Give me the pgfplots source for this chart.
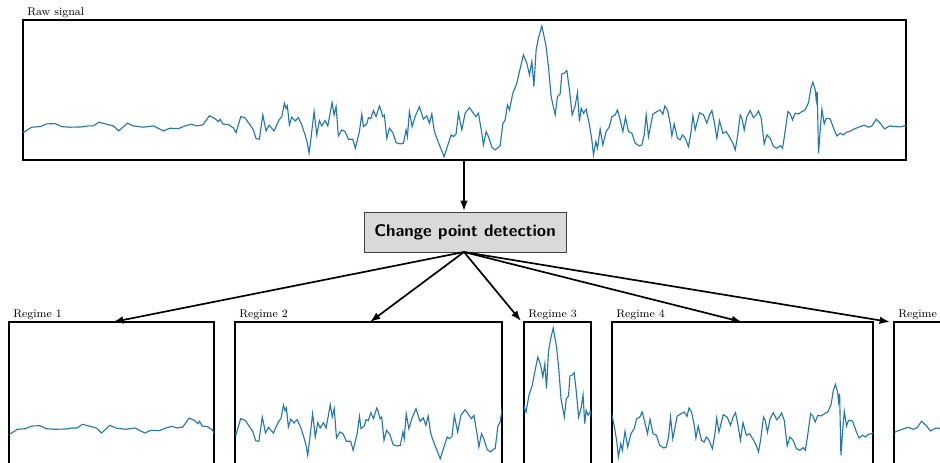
\documentclass[border=0pt]{standalone}
\usepackage{pgfplots}
\pgfplotsset{compat=1.18}
\usepackage{pgfplotstable}
\usetikzlibrary{arrows.meta}

\definecolor{sigblue}{RGB}{31,119,180}

% raw signal (x in px along the top panel, value = height above its bottom)
\pgfplotstableread{
x v
23 27.3
31.7 32.7
40 33.3
46.7 36
55 36.3
61.7 33.3
70 32.7
81.7 33
88.3 34
93.3 34
99 37.7
106.7 35.7
113.3 34
118.7 29
127.3 36.7
133.3 34
143.3 32.7
153.3 34
163.3 29
170 31.7
178.3 31.3
185 34
191.7 35.7
196.7 34
202.7 35
209.3 44
215 41.3
218.3 38.3
220 40.7
222.7 36
228.3 35.3
233.3 32
236 27.3
240.7 43.3
245 42
250 35
253.3 30
256 21.3
259.3 20.7
262.7 45
266 29
269 34.7
274 29
279 40
281.7 43.3
284.3 56.7
286 51.3
287.3 54
289.3 35
291.7 42.7
295 39
298.3 42.3
301.7 35
305 25
307.3 16.7
309 6.7
310.7 20
314 48.3
316.7 25
319.3 39.3
321.7 34
325 39.3
327.7 34
332 57.3
334 45
336 53.3
338.3 24
341.7 30
345 28.3
348.3 20.7
352.7 20.7
355.3 11.7
359.3 28.3
361.7 45.7
363.3 33.3
366.7 36
368.3 42.3
370.7 41.3
373.3 49.3
376 43.3
379.3 54
380 52.7
382.7 43.3
384.3 45
386.7 21.7
389.3 31.7
392.7 27.3
396 17.3
400 16
403.3 16.7
406 30
407.3 23.3
409.3 48.3
412 33.3
415 43.3
419.3 53.3
423.3 40.7
426.7 44
429.3 36.7
431.7 46
434 30
436 23.3
439.3 15
444 3.3
448.3 16.7
451 25
453.3 23.3
456 26
458.3 46.7
461.7 30
465 46.7
469.3 52.3
473.3 46.7
475.7 43.3
478.3 46.7
481.7 26.7
483.3 15
486 28.3
488.3 23.3
491.7 12.7
495 10
500 14
502.7 36
505 40
507.3 55
509.3 50
512.7 66.7
516.7 76.7
519.3 88.3
523.3 105
526.7 96.7
529.3 85
531.7 98.3
533.7 73.3
536 110
538.3 121.7
541.7 134
545.7 115
548.3 93.3
551 63.3
555 45
557.3 63.3
560 66
561.7 86
564 86.7
566.7 89.3
569.3 70
572 45
575 54
577.3 67.3
579.3 38.3
581 51.7
583.3 46.7
586 50.7
589.3 35
591.7 20
593.3 5
595.7 18.3
597.3 11.7
600 30.7
602.7 15
606 28.3
609.3 33.3
611.7 43.3
615 45
617.3 50
620 40
622.7 28.3
625.3 42.7
628.3 28.3
631.7 26.7
635 16.7
639.3 14
641.7 15
644 25
646 45
648.3 23.3
652.7 45.7
656.7 48.3
660 50
662.7 45.7
664.7 54
667.3 50
670 36.7
671.7 24
674 36
677.3 21.7
680 20
682.3 25
685 21.7
688.3 13.3
690.7 26.7
692.7 44
695 30
699.3 47.3
703.3 45
706.7 36.7
709.3 45
711.7 49.3
714 38.3
716.7 21.7
719.3 39.3
722.7 26.7
726 28.3
730 21.7
732.7 16.7
735 10
737.3 23.3
740 45
741.7 41.7
744 30
746.7 43.3
750 49.3
753.3 42.3
756 45
758.3 49
761 41.7
764 16
766.7 25
770 21.7
773.3 13.3
776.7 11.7
780 14.3
782.3 11.7
784.3 24
787.7 48.3
790 46
792.3 40
795 46.7
798.3 46
801.7 48.3
805 50
808.3 57.3
810.7 71.7
812.7 77.7
815 70
816 60
817 68.3
818.3 6.7
820 30
821.7 50.7
824 36
826 41.7
830 41
834 30
836.7 24
840 26.7
843.3 25
846 27.7
849.3 28.3
853.3 30.7
858.3 32.7
864 34.7
868.3 32.7
871.7 34
876 40.7
880 36.7
884.3 31
889.3 34
895 33.3
900 33
906 34.7
}\rawsig

\pgfplotsset{
  panel/.style={scale only axis, anchor=north west, ticks=none,
    axis line style={line width=1.3pt}, ymin=0, ymax=140, clip=true},
  sig/.style={sigblue, line width=0.8pt, no marks},
}

\begin{document}
\begin{tikzpicture}[x=0.025cm, y=0.025cm]
\useasboundingbox (0,0) rectangle (940,462);
\clip (0,0) rectangle (940,462);

% top panel: whole signal
\begin{axis}[panel, at={(0.575cm,11.05cm)}, width=22.075cm, height=3.5cm,
  xmin=23, xmax=906]
\addplot[sig] table[x=x, y=v] {\rawsig};
\end{axis}
\node[anchor=base west, inner sep=0pt, font=\footnotesize] at (27,446) {Raw signal};

% regime panels (same data, cut at the change points)
\begin{axis}[panel, at={(0.225cm,3.5cm)}, width=5.125cm, height=3.55cm,
  xmin=23, xmax=235, ymin=-2]
\addplot[sig] table[x=x, y=v] {\rawsig};
\end{axis}
\begin{axis}[panel, at={(5.875cm,3.5cm)}, width=6.675cm, height=3.55cm,
  xmin=235, xmax=507, ymin=-2]
\addplot[sig] table[x=x, y=v] {\rawsig};
\end{axis}
\begin{axis}[panel, at={(13.1cm,3.5cm)}, width=1.675cm, height=3.55cm,
  xmin=507, xmax=587, ymin=-2]
\addplot[sig] table[x=x, y=v] {\rawsig};
\end{axis}
\begin{axis}[panel, at={(15.3cm,3.5cm)}, width=6.525cm, height=3.55cm,
  xmin=587, xmax=851, ymin=-2]
\addplot[sig] table[x=x, y=v] {\rawsig};
\end{axis}
\begin{axis}[panel, at={(22.35cm,3.5cm)}, width=1.5cm, height=3.55cm,
  xmin=851, xmax=906, ymin=-2]
\addplot[sig] table[x=x, y=v] {\rawsig};
\end{axis}

\foreach \xx/\nn in {13/1, 239/2, 528/3, 616/4, 898/5}
  \node[anchor=base west, inner sep=0pt, font=\footnotesize] at (\xx,145) {Regime \nn};

% flow
\draw[line width=1.2pt, -{Latex[length=2.6mm, width=1.9mm]}] (464,302) -- (464,251);
\node[draw=black!75, fill=black!15, line width=0.6pt, minimum width=5.05cm,
  minimum height=1cm, font=\large\sffamily\bfseries] (cpd) at (465,230) {Change point detection};
\foreach \tx/\ty in {113/140, 370/140, 521/141, 742/140, 890/140}
  \draw[line width=1.2pt, -{Latex[length=2.6mm, width=1.9mm]}] (464,210) -- (\tx,\ty);
\end{tikzpicture}
\end{document}
